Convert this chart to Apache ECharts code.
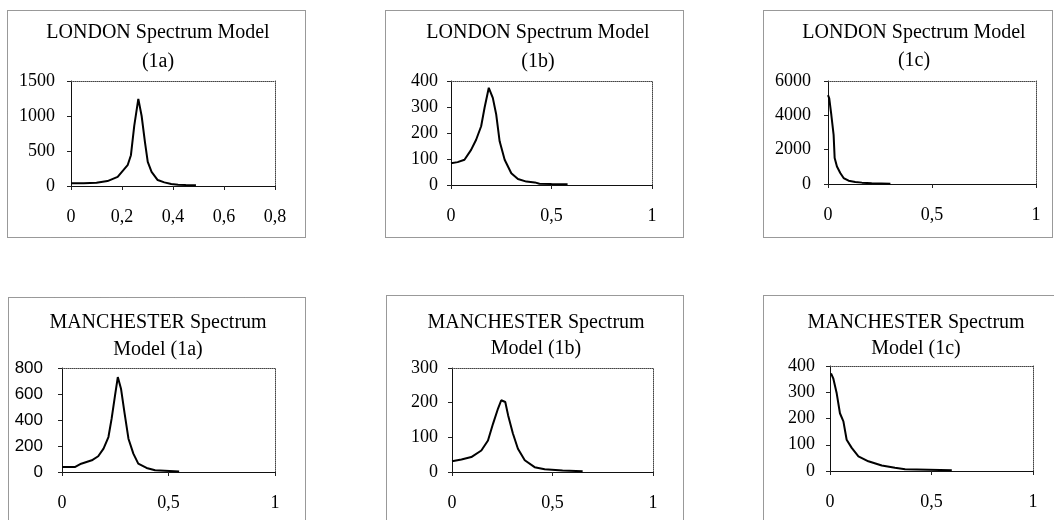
<!DOCTYPE html>
<html>
<head>
<meta charset="utf-8">
<script src="https://cdn.jsdelivr.net/npm/echarts@6/dist/echarts.min.js"></script>
<style>html,body{margin:0;padding:0;background:#fff;}#c{width:1054px;height:520px;}</style>
</head>
<body>
<div id="c"></div>
<script>
// ---- data ----
const londonA_x = [0, 0.05, 0.10, 0.143, 0.183, 0.222, 0.235, 0.248, 0.264, 0.277, 0.290, 0.301, 0.316, 0.340, 0.366, 0.393, 0.42, 0.45, 0.49];
const londonA_y = [38, 38, 45, 70, 130, 297, 440, 860, 1245, 1000, 627, 345, 202, 85, 52, 28, 18, 14, 10];

const londonB_x = [0, 0.033, 0.067, 0.10, 0.125, 0.15, 0.167, 0.188, 0.208, 0.225, 0.242, 0.267, 0.30, 0.333, 0.375, 0.417, 0.44, 0.5, 0.58];
const londonB_y = [84, 88, 97, 135, 174, 226, 297, 374, 335, 271, 168, 97, 45, 23, 13, 10, 5, 4, 3];

const londonC_x = [0, 0.006, 0.016, 0.027, 0.032, 0.043, 0.059, 0.075, 0.099, 0.131, 0.163, 0.21, 0.3];
const londonC_y = [5180, 4990, 4020, 2860, 1510, 1020, 640, 348, 190, 116, 80, 50, 20];

const manA_x = [0, 0.06, 0.09, 0.14, 0.17, 0.195, 0.218, 0.233, 0.249, 0.262, 0.277, 0.293, 0.312, 0.335, 0.358, 0.397, 0.437, 0.55];
const manA_y = [38, 38, 64, 90, 121, 180, 269, 410, 590, 730, 641, 461, 256, 141, 64, 31, 13, 3];

const manB_x = [0, 0.047, 0.096, 0.146, 0.179, 0.204, 0.229, 0.245, 0.265, 0.279, 0.303, 0.328, 0.362, 0.411, 0.461, 0.55, 0.65];
const manB_y = [31, 36, 43, 62, 91, 139, 183, 207, 202, 164, 111, 67, 34, 14, 8, 4, 2];

const manC_x = [0.005, 0.016, 0.033, 0.049, 0.066, 0.082, 0.107, 0.14, 0.189, 0.255, 0.32, 0.37, 0.6];
const manC_y = [372, 353, 296, 220, 189, 119, 88, 56, 37, 21, 12, 7, 3];

const titles = [
  ['LONDON Spectrum Model', '(1a)'],
  ['LONDON Spectrum Model', '(1b)'],
  ['LONDON Spectrum Model', '(1c)'],
  ['MANCHESTER Spectrum', 'Model (1a)'],
  ['MANCHESTER Spectrum', 'Model (1b)'],
  ['MANCHESTER Spectrum', 'Model (1c)']
];
const xMaxes = [0.8, 1, 1, 1, 1, 1];
const xSteps = [0.2, 0.5, 0.5, 0.5, 0.5, 0.5];
const yMaxes = [1500, 400, 6000, 800, 300, 400];
const ySteps = [500, 100, 2000, 200, 100, 100];
const seriesX = [londonA_x, londonB_x, londonC_x, manA_x, manB_x, manC_x];
const seriesY = [londonA_y, londonB_y, londonC_y, manA_y, manB_y, manC_y];

// ---- layout ----
const layout = [
  {box:[7,10,298,227],  grid:[71,81,204,105],  tx:158, ty:[33,62],   ym:16, serifY:true},
  {box:[385,10,298,227],grid:[451,81,201,104], tx:538, ty:[33,62],   ym:13, serifY:true},
  {box:[763,10,289,227],grid:[828,81,208,103], tx:914, ty:[33,61],   ym:17, serifY:true},
  {box:[8,297,297,240], grid:[62,368,213,104], tx:158, ty:[323,350], ym:19, serifY:false},
  {box:[386,295,297,240],grid:[452,368,201,104],tx:536, ty:[323,349], ym:14, serifY:true},
  {box:[763,295,300,240],grid:[830,366,203,105],tx:916, ty:[323,349], ym:15, serifY:true}
];

const SERIF = '"Liberation Serif", "DejaVu Serif", serif';
const SANS = '"Liberation Sans", Arial, sans-serif';
const fmt = v => String(+v.toFixed(3)).replace('.', ',');
const fmtY = v => String(v);

const grids = [], xAxes = [], yAxes = [], series = [], graphics = [];
layout.forEach((L, i) => {
  grids.push({left: L.grid[0], top: L.grid[1], width: L.grid[2], height: L.grid[3], containLabel: false});
  xAxes.push({
    type: 'value', gridIndex: i, min: 0, max: xMaxes[i], interval: xSteps[i], position: 'bottom',
    splitLine: {show: false},
    axisLine: {show: true, onZero: false, lineStyle: {color: '#111', width: 1}},
    axisTick: {show: true, length: 4, inside: false, lineStyle: {color: '#222'}},
    axisLabel: {show: true, margin: 22, formatter: fmt, color: '#000', fontFamily: SERIF, fontSize: 18}
  });
  xAxes.push({
    type: 'value', gridIndex: i, min: 0, max: xMaxes[i], position: 'top',
    splitLine: {show: false}, axisTick: {show: false}, axisLabel: {show: false},
    axisLine: {show: true, onZero: false, lineStyle: {color: '#444', width: 1, type: [1, 1]}}
  });
  yAxes.push({
    type: 'value', gridIndex: i, min: 0, max: yMaxes[i], interval: ySteps[i], position: 'left',
    splitLine: {show: false},
    axisLine: {show: true, onZero: false, lineStyle: {color: '#111', width: 1}},
    axisTick: {show: true, length: 4, inside: false, lineStyle: {color: '#222'}},
    axisLabel: {show: true, margin: L.ym, formatter: fmtY, color: '#000',
      fontFamily: L.serifY ? SERIF : SANS, fontSize: L.serifY ? 18 : 17}
  });
  yAxes.push({
    type: 'value', gridIndex: i, min: 0, max: yMaxes[i], position: 'right',
    splitLine: {show: false}, axisTick: {show: false}, axisLabel: {show: false},
    axisLine: {show: true, onZero: false, lineStyle: {color: '#444', width: 1, type: [1, 1]}}
  });
  series.push({
    type: 'line', xAxisIndex: 2 * i, yAxisIndex: 2 * i, showSymbol: false, symbol: 'none',
    smooth: false, lineStyle: {color: '#000', width: 2}, silent: true,
    data: seriesX[i].map((x, k) => [x, seriesY[i][k]])
  });
  graphics.push({
    type: 'rect', shape: {x: L.box[0] + 0.5, y: L.box[1] + 0.5, width: L.box[2], height: L.box[3]},
    style: {fill: 'none', stroke: '#333', lineWidth: 1, lineDash: [1, 1]}, silent: true, z: -1
  });
  titles[i].forEach((t, k) => {
    graphics.push({
      type: 'text', x: L.tx, y: L.ty[k],
      style: {text: t, font: '20px ' + SERIF, fill: '#000', align: 'center', verticalAlign: 'middle'},
      silent: true
    });
  });
});

const chart = echarts.init(document.getElementById('c'), null, {renderer: 'canvas'});
chart.setOption({
  animation: false,
  backgroundColor: '#fff',
  grid: grids,
  xAxis: xAxes,
  yAxis: yAxes,
  series: series,
  graphic: graphics
});
</script>
</body>
</html>
